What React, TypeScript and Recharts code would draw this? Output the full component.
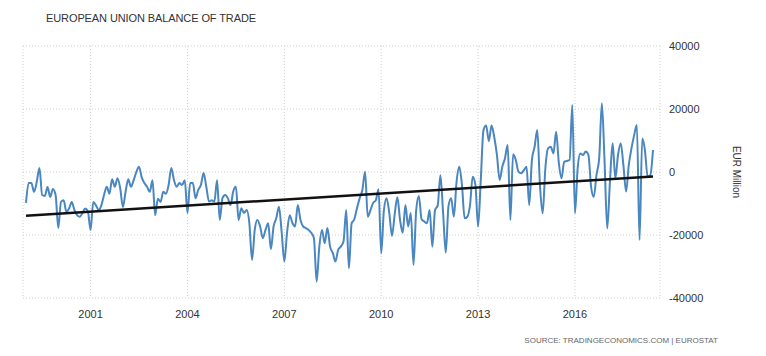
import { LineChart, Line, XAxis, YAxis, CartesianGrid } from 'recharts';

// EU balance of trade, EUR million, monthly Jan 1999 - Jun 2018
const y1999 = [-9800, -3500, -3500, -6300, -3100, 1300, -7300, -7600, -4800, -7900, -5400, -7300];
const y2000 = [-17800, -9500, -9000, -12600, -11600, -9500, -12100, -13700, -14200, -13000, -11600, -12500];
const y2001 = [-18400, -9500, -10600, -12100, -10600, -7300, -4700, -6900, -2300, -4700, -2000, -5100];
const y2002 = [-11100, -6300, -2300, -4700, -2600, 0, 1700, -1700, -3500, -4700, -6300, -2600];
const y2003 = [-13700, -8500, -9500, -6300, -6900, -4100, 1300, -2600, -4700, -3500, -4100, -2600];
const y2004 = [-13000, -3500, -3500, -8300, -5700, -4100, -300, -4700, -9400, -9000, -9400, -2600];
const y2005 = [-15200, -8300, -7300, -8300, -10500, -6200, -4700, -15200, -11500, -13000, -12100, -16200];
const y2006 = [-27900, -18400, -15200, -17300, -21000, -18400, -16300, -24500, -17300, -14700, -11000, -19000];
const y2007 = [-28400, -19300, -13700, -16200, -17300, -10500, -15200, -17300, -17800, -18400, -19300, -21000];
const y2008 = [-34800, -23700, -18400, -22600, -17800, -23700, -25700, -28400, -24700, -23700, -22000, -12100];
const y2009 = [-30600, -16300, -15000, -11500, -8300, -5700, 100, -14200, -12100, -9800, -9000, -5500];
const y2010 = [-25800, -12100, -8300, -13000, -20300, -13500, -8000, -15200, -19300, -10500, -17300, -13000];
const y2011 = [-29500, -12100, -7600, -15000, -15700, -16300, -12100, -23700, -12100, -10600, -1000, -13000];
const y2012 = [-25600, -10800, -8300, -14200, -3100, 1700, -4100, -14700, -14200, -10500, -1500, -4100];
const y2013 = [-17300, -2500, 13300, 14800, 9800, 14800, 11100, 5400, -2500, 1700, 4400, 8600];
const y2014 = [-15200, 5600, 3800, 100, -400, 600, 1700, -10500, 3800, 8000, 13300, -4400];
const y2015 = [-13100, 1200, 7500, 8000, 5900, 12800, 2900, -2000, 3300, 3500, 3800, 21300];
const y2016 = [-13100, 1200, 5900, 5400, 6500, 5400, -4700, -7900, -900, 4300, 21800, 3300];
const y2017 = [-17900, -3000, 9100, -2000, 5400, 9100, 2200, -6200, 2200, 7500, 11700, 14900];
const y2018 = [-21600, 10600, 6900, -1500, -1000, 7000];

const balance = [
  ...y1999, ...y2000, ...y2001, ...y2002, ...y2003, ...y2004, ...y2005, ...y2006, ...y2007, ...y2008,
  ...y2009, ...y2010, ...y2011, ...y2012, ...y2013, ...y2014, ...y2015, ...y2016, ...y2017, ...y2018,
];

// trend line end points
const trendEnds = [-13900, -1400];

const xTicks = ['2001-01', '2004-01', '2007-01', '2010-01', '2013-01', '2016-01'];
const yTicks = [-40000, -20000, 0, 20000, 40000];

const data = balance.map((v, i) => ({
  month: `${1999 + Math.floor(i / 12)}-${String((i % 12) + 1).padStart(2, '0')}`,
  balance: v,
  trend: i === 0 ? trendEnds[0] : i === balance.length - 1 ? trendEnds[1] : null,
}));

const font = '"Liberation Sans", Arial, sans-serif';

export default function App() {
  return (
    <div style={{ position: 'absolute', left: 0, top: 0, width: 766, height: 356, background: '#fff', fontFamily: font }}>
      <div style={{ position: 'absolute', left: 46, top: 12, fontSize: 11, color: '#333', letterSpacing: -0.1 }}>
        EUROPEAN UNION BALANCE OF TRADE
      </div>
      <LineChart width={766} height={356} data={data} margin={{ top: 46, right: 46, bottom: 28, left: 23 }}>
        <CartesianGrid stroke="#cfcfcf" strokeDasharray="1 2" />
        <XAxis
          dataKey="month"
          ticks={xTicks}
          interval={0}
          tickFormatter={(v: string) => v.slice(0, 4)}
          padding={{ left: 3, right: 7 }}
          axisLine={false}
          tickLine={false}
          tickMargin={6}
          height={30}
          tick={{ fill: '#333', fontSize: 11, fontFamily: font }}
        />
        <YAxis
          orientation="right"
          domain={[-40000, 40000]}
          ticks={yTicks}
          axisLine={false}
          tickLine={false}
          tickMargin={3}
          width={60}
          tick={{ fill: '#333', fontSize: 11, fontFamily: font, textAnchor: 'start' }}
        />
        <Line type="monotone" dataKey="balance" stroke="#4a86bf" strokeWidth={2} dot={false} isAnimationActive={false} />
        <Line type="linear" dataKey="trend" stroke="#111" strokeWidth={2.5} dot={false} connectNulls isAnimationActive={false} />
      </LineChart>
      <div
        style={{
          position: 'absolute', left: 736, top: 172, fontSize: 10, color: '#333',
          transform: 'translate(-50%, -50%) rotate(90deg)', whiteSpace: 'nowrap',
        }}
      >
        EUR Million
      </div>
      <div style={{ position: 'absolute', right: 48, top: 336, fontSize: 8, color: '#666' }}>
        SOURCE: TRADINGECONOMICS.COM | EUROSTAT
      </div>
    </div>
  );
}
